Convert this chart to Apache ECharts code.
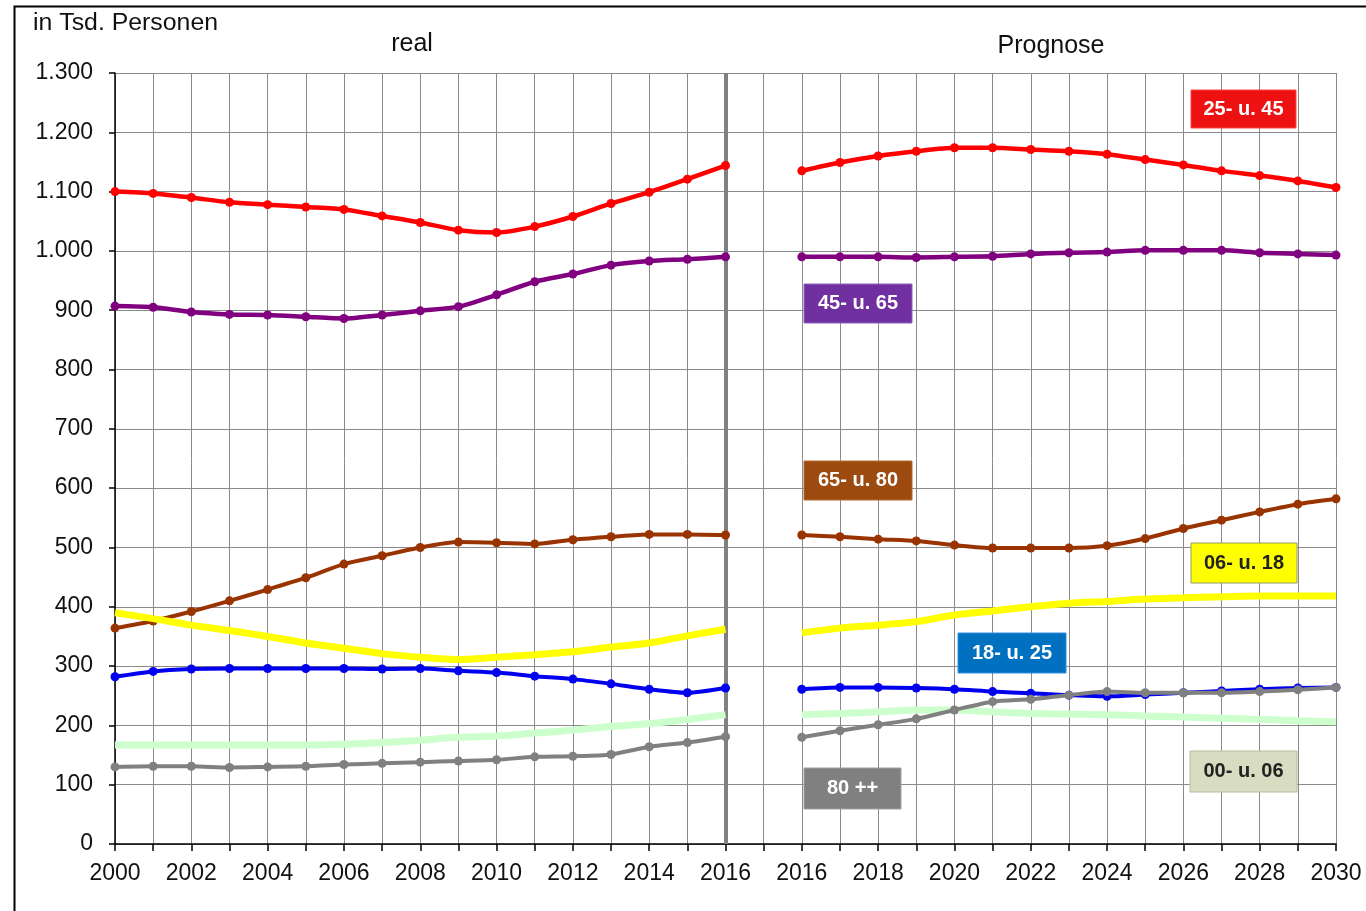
<!DOCTYPE html>
<html>
<head>
<meta charset="utf-8">
<script src="https://cdn.jsdelivr.net/npm/echarts@6/dist/echarts.min.js"></script>
<style>
html,body{margin:0;padding:0;background:#fff;}
#chart{width:1366px;height:911px;}
</style>
</head>
<body>
<div id="chart"></div>
<script>
// ---- data ----
const yearsReal = ['2000','2001','2002','2003','2004','2005','2006','2007','2008','2009','2010','2011','2012','2013','2014','2015','2016'];
const yearsProg = ['2016','2017','2018','2019','2020','2021','2022','2023','2024','2025','2026','2027','2028','2029','2030'];

const real25_45 = [1100,1097,1090,1082,1078,1074,1070,1059,1048,1035,1031,1041,1058,1080,1099,1121,1144];
const prog25_45 = [1135,1149,1160,1168,1174,1174,1171,1168,1163,1154,1145,1135,1127,1118,1107];

const real45_65 = [907,905,897,893,892,889,886,892,899,906,926,948,961,976,983,986,990];
const prog45_65 = [990,990,990,989,990,991,995,997,998,1001,1001,1001,997,995,993];

const real65_80 = [364,376,392,410,429,449,472,486,500,509,508,506,513,518,522,522,521];
const prog65_80 = [521,518,514,511,504,499,499,499,503,515,532,546,560,573,582];

const real06_18 = [390,380,369,360,350,339,330,321,315,311,315,319,324,332,339,351,362];
const prog06_18 = [356,364,369,375,386,393,400,406,409,413,415,417,418,418,418];

const real18_25 = [282,291,295,296,296,296,296,295,296,292,289,283,278,270,261,255,263];
const prog18_25 = [261,264,264,263,261,257,254,251,249,252,255,258,261,263,264];

const real00_06 = [167,167,167,167,167,167,168,171,175,180,182,187,192,198,203,210,218];
const prog00_06 = [218,220,223,226,226,223,220,219,218,216,214,212,210,208,206];

const real80 = [130,131,131,129,130,131,134,136,138,140,142,147,148,151,164,171,181];
const prog80 = [180,191,201,211,226,240,244,251,257,255,255,255,257,260,264];

const yTicks = [0,100,200,300,400,500,600,700,800,900,1000,1100,1200,1300];
const seriesNames = ['25- u. 45','45- u. 65','65- u. 80','06- u. 18','18- u. 25','00- u. 06','80 ++'];

// ---- build ----
const categories = yearsReal.concat(['']).concat(yearsProg);
function join(a, b) { return a.concat([null]).concat(b); }

const FONT = "'Liberation Sans', Arial, sans-serif";

function line(name, data, color, width, symSize, z) {
  return {
    name: name, type: 'line', data: data, smooth: 0.25,
    connectNulls: false, z: z,
    symbol: 'circle', symbolSize: symSize, showSymbol: symSize > 0,
    lineStyle: { color: color, width: width },
    itemStyle: { color: color },
    emphasis: { disabled: true }
  };
}

const series = [
  line(seriesNames[2], join(real65_80, prog65_80), '#993300', 4, 9, 3),
  line(seriesNames[3], join(real06_18, prog06_18), '#ffff00', 7, 0, 4),
  line(seriesNames[4], join(real18_25, prog18_25), '#0000ee', 4, 9, 5),
  line(seriesNames[5], join(real00_06, prog00_06), '#ccffcc', 7, 0, 6),
  line(seriesNames[6], join(real80, prog80), '#808080', 4, 9, 7),
  line(seriesNames[0], join(real25_45, prog25_45), '#ff0000', 4.5, 9, 8),
  line(seriesNames[1], join(real45_65, prog45_65), '#800080', 4.5, 9, 9)
];
series[0].markLine = {
  silent: true, symbol: 'none', label: { show: false },
  lineStyle: { color: '#808080', width: 4, type: 'solid' },
  data: [{ xAxis: 16 }], z: 2
};

function box(text, x, y, w, h, bg, fg, border) {
  return [
    { type: 'rect', x: x, y: y, z: 200, zlevel: 0,
      shape: { x: 0, y: 0, width: w, height: h },
      style: { fill: bg, stroke: border, lineWidth: 1 } },
    { type: 'text', x: x + w / 2, y: y + h / 2, z: 201, zlevel: 0,
      style: { text: text, fill: fg, font: "bold 20px 'Liberation Sans', Arial, sans-serif",
               textAlign: 'center', textVerticalAlign: 'middle' } }
  ];
}

function fmt(v) {
  if (v >= 1000) return Math.floor(v / 1000) + '.' + String(v % 1000).padStart(3, '0');
  return String(v);
}

const graphics = [
  { type: 'rect', left: 12, top: 4, z: 0, silent: true,
    shape: { x: 0, y: 0, width: 1400, height: 950 },
    style: { fill: 'none', stroke: '#000', lineWidth: 2 } },
  { type: 'text', x: 33, y: 24, z: 100, scaleX: 1.08,
    style: { text: 'in Tsd. Personen', fill: '#111', font: "23px 'Liberation Sans', Arial, sans-serif", textVerticalAlign: 'middle' } },
  { type: 'text', x: 412, y: 44, z: 100,
    style: { text: 'real', fill: '#111', font: "25px 'Liberation Sans', Arial, sans-serif", textAlign: 'center', textVerticalAlign: 'middle' } },
  { type: 'text', x: 1051, y: 46, z: 100,
    style: { text: 'Prognose', fill: '#111', font: "25px 'Liberation Sans', Arial, sans-serif", textAlign: 'center', textVerticalAlign: 'middle' } }
].concat(
  box(seriesNames[0], 1191, 90, 105, 38, '#ee1111', '#fff', '#ff4444'),
  box(seriesNames[1], 804, 284, 108, 39, '#7030a0', '#fff', '#9060c0'),
  box(seriesNames[2], 804, 461, 108, 39, '#9c4a10', '#fff', '#b86a30'),
  box(seriesNames[3], 1191, 543, 106, 40, '#ffff00', '#222', '#999966'),
  box(seriesNames[4], 958, 633, 108, 40, '#0070c0', '#fff', '#3090e0'),
  box(seriesNames[5], 1190, 751, 107, 41, '#d8dcc0', '#222', '#bbbba0'),
  box(seriesNames[6], 804, 768, 97, 41, '#808080', '#fff', '#a0a0a0')
);

const chart = echarts.init(document.getElementById('chart'));
chart.setOption({
  animation: false,
  backgroundColor: '#fff',
  grid: { left: 115, right: 30, top: 73, bottom: 67 },
  xAxis: {
    type: 'category', data: categories, boundaryGap: false,
    axisLine: { show: true, lineStyle: { color: '#000', width: 1.5 } },
    axisTick: { show: true, inside: false, length: 7, interval: 0, lineStyle: { color: '#000', width: 1.5 } },
    axisLabel: { interval: 1, color: '#111', fontSize: 23, fontFamily: FONT, margin: 18 },
    splitLine: { show: true, interval: 0, lineStyle: { color: '#8a8a8a', width: 1 } }
  },
  yAxis: {
    type: 'value', min: yTicks[0], max: yTicks[yTicks.length - 1], interval: 100,
    axisLine: { show: true, lineStyle: { color: '#000', width: 1.5 } },
    axisTick: { show: true, inside: false, length: 6, lineStyle: { color: '#000', width: 1.5 } },
    axisLabel: { color: '#111', fontSize: 23, fontFamily: FONT, margin: 22, formatter: fmt },
    splitLine: { show: true, lineStyle: { color: '#8a8a8a', width: 1 } }
  },
  graphic: graphics,
  series: series
});
</script>
</body>
</html>
